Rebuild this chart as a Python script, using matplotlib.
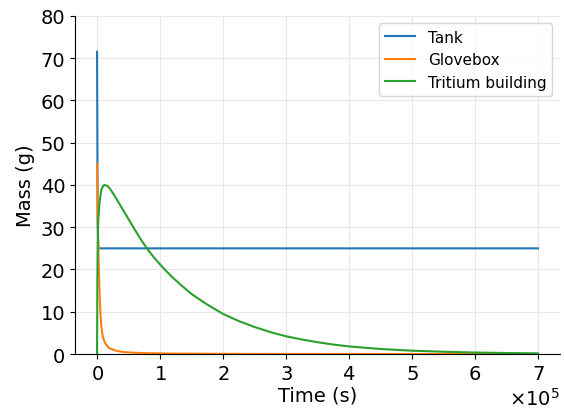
import matplotlib
matplotlib.use("Agg")
import matplotlib.pyplot as plt
from matplotlib.ticker import ScalarFormatter

# values (time in s, mass in g)
t_tank = [0, 1000, 2000, 700000]
m_tank = [71.5, 30, 25, 25]

t_glove = [0, 1000, 2400, 4000, 5000, 6600, 9000, 12000, 16000, 20000, 30000, 41000,
           60000, 83000, 120000, 200000, 300000, 700000]
m_glove = [45, 32, 22.5, 14.6, 10.5, 6.7, 4.2, 2.8, 1.9, 1.35, 0.8, 0.5,
           0.3, 0.2, 0.12, 0.06, 0.03, 0.01]

t_trit = [0, 500, 1000, 2000, 4000, 7000, 10000, 12000, 16000, 20000, 25000, 30000,
          40000, 50000, 60000, 70000, 80000, 90000, 100000, 110000, 120000, 135000,
          150000, 175000, 200000, 225000, 250000, 275000, 300000, 325000, 350000,
          375000, 400000, 450000, 500000, 550000, 600000, 650000, 700000]
m_trit = [0, 18, 26, 32, 36, 39, 39.8, 40, 39.8, 39.2, 38.1, 36.9,
          34.4, 31.9, 29.4, 27.0, 24.8, 22.9, 21.2, 19.6, 18.1, 16.1,
          14.2, 11.7, 9.5, 7.8, 6.4, 5.2, 4.2, 3.45, 2.8,
          2.25, 1.8, 1.2, 0.8, 0.55, 0.36, 0.25, 0.17]

fig = plt.figure(figsize=(5.64, 4.1), dpi=100)
ax = fig.add_axes([0.133, 0.134, 0.86, 0.825])

ax.plot(t_tank, m_tank, color="#1f77b4", lw=1.5, label="Tank")
ax.plot(t_glove, m_glove, color="#ff7f0e", lw=1.5, label="Glovebox")
ax.plot(t_trit, m_trit, color="#2ca02c", lw=1.5, label="Tritium building")

ax.set_xlim(-35000, 735000)
ax.set_ylim(0, 80)
ax.set_xlabel("Time (s)", fontsize=14, labelpad=2)
ax.set_ylabel("Mass (g)", fontsize=14)
ax.tick_params(labelsize=14)

fmt = ScalarFormatter(useMathText=True)
fmt.set_powerlimits((0, 0))
ax.xaxis.set_major_formatter(fmt)
ax.xaxis.get_offset_text().set_fontsize(14)

ax.grid(True, color="#e8e8e8", lw=0.8)
ax.set_axisbelow(True)
ax.spines["top"].set_visible(False)
ax.spines["right"].set_visible(False)

ax.legend(loc="upper right", fontsize=11)

fig.savefig("out.png", dpi=100)
